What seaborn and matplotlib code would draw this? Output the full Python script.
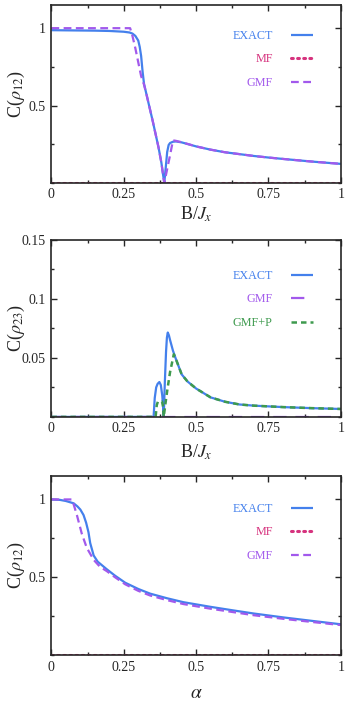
import numpy as np
import pandas as pd
import seaborn as sns
import matplotlib.pyplot as plt
from matplotlib.ticker import MultipleLocator, FuncFormatter

# colours
c_exact = '#4480ec'
c_mf = '#d6337e'
c_gmf = '#a259ec'
c_gmfp = '#3e9a4e'

# panel 1: C(rho_12) vs B/Jx
p1_exact_x = [0, 0.05, 0.1, 0.15, 0.2, 0.25, 0.27, 0.28, 0.29, 0.30, 0.305, 0.31, 0.315, 0.32, 0.33, 0.35, 0.37, 0.38, 0.386, 0.39,
              0.395, 0.40, 0.405, 0.41, 0.42, 0.43, 0.45, 0.5, 0.55, 0.6, 0.7, 0.75, 0.8, 0.9, 1.0]
p1_exact_y = [0.987, 0.986, 0.985, 0.984, 0.982, 0.977, 0.972, 0.965, 0.95, 0.92, 0.88, 0.82, 0.72, 0.64, 0.56, 0.40, 0.23, 0.13, 0.05, 0.0,
              0.10, 0.20, 0.245, 0.258, 0.266, 0.268, 0.262, 0.236, 0.215, 0.198, 0.174, 0.164, 0.155, 0.138, 0.123]
p1_gmf_x = [0, 0.272, 0.28, 0.29, 0.30, 0.31, 0.32, 0.33, 0.35, 0.37, 0.38, 0.386, 0.39, 0.40, 0.41, 0.42, 0.43, 0.45, 0.5, 0.55,
            0.6, 0.7, 0.75, 0.8, 0.9, 1.0]
p1_gmf_y = [1.0, 1.0, 0.95, 0.87, 0.78, 0.69, 0.635, 0.56, 0.40, 0.23, 0.13, 0.05, 0.0, 0.09, 0.18, 0.275, 0.272, 0.263, 0.236, 0.215,
            0.198, 0.174, 0.164, 0.155, 0.138, 0.123]
p1_mf_x = [0, 1.0]
p1_mf_y = [0, 0]

# panel 2: C(rho_23) vs B/Jx
p2_exact_x = [0, 0.353, 0.357, 0.362, 0.367, 0.373, 0.378, 0.383, 0.386, 0.388, 0.392, 0.396, 0.399, 0.402, 0.406, 0.41, 0.42, 0.43,
              0.45, 0.47, 0.5, 0.55, 0.6, 0.65, 0.7, 0.8, 0.9, 1.0]
p2_exact_y = [0, 0, 0.016, 0.025, 0.028, 0.0295, 0.027, 0.018, 0.008, 0.0, 0.03, 0.055, 0.067, 0.0714, 0.069, 0.065, 0.056, 0.049,
              0.036, 0.030, 0.024, 0.0165, 0.0128, 0.0105, 0.0095, 0.0083, 0.0074, 0.0067]
p2_gmfp_x = [0, 0.36, 0.364, 0.368, 0.375, 0.382, 0.385, 0.388, 0.395, 0.40, 0.41, 0.423, 0.43, 0.45, 0.47, 0.5, 0.55, 0.6, 0.65,
             0.7, 0.8, 0.9, 1.0]
p2_gmfp_y = [0, 0, 0.01, 0.013, 0.013, 0.013, 0.01, 0.0, 0.013, 0.022, 0.038, 0.053, 0.049, 0.036, 0.030, 0.024, 0.0165, 0.0128,
             0.0105, 0.0095, 0.0083, 0.0074, 0.0067]
p2_gmf_x = [0, 1.0]
p2_gmf_y = [0, 0]

# panel 3: C(rho_12) vs alpha
p3_exact_x = [0, 0.03, 0.05, 0.077, 0.09, 0.10, 0.111, 0.12, 0.128, 0.134, 0.146, 0.16, 0.191, 0.22, 0.255, 0.3, 0.341, 0.4, 0.456,
              0.55, 0.629, 0.7, 0.802, 0.9, 1.0]
p3_exact_y = [1.0, 0.997, 0.99, 0.975, 0.955, 0.935, 0.90, 0.85, 0.79, 0.72, 0.64, 0.60, 0.552, 0.51, 0.465, 0.425, 0.395, 0.365, 0.34,
              0.31, 0.287, 0.267, 0.242, 0.22, 0.198]
p3_gmf_x = [0, 0.07, 0.075, 0.088, 0.105, 0.122, 0.146, 0.168, 0.191, 0.22, 0.255, 0.3, 0.341, 0.4, 0.456, 0.55, 0.629, 0.7, 0.802,
            0.9, 1.0]
p3_gmf_y = [1.0, 1.0, 0.98, 0.90, 0.78, 0.69, 0.612, 0.567, 0.54, 0.50, 0.455, 0.413, 0.383, 0.353, 0.328, 0.298, 0.276, 0.256, 0.233,
            0.213, 0.193]
p3_mf_x = [0, 1.0]
p3_mf_y = [0, 0]

sns.set_style('ticks')
plt.rcParams['font.family'] = ['Liberation Serif', 'DejaVu Serif']
plt.rcParams['mathtext.fontset'] = 'stix'
plt.rcParams['axes.linewidth'] = 1.2

fig = plt.figure(figsize=(3.45, 7.09), dpi=100)
ax1 = fig.add_axes([0.149, 0.742, 0.839, 0.251])
ax2 = fig.add_axes([0.149, 0.412, 0.839, 0.250])
ax3 = fig.add_axes([0.149, 0.076, 0.839, 0.2525])

fmt = FuncFormatter(lambda v, p: '%g' % round(v, 4))
mf_ls = (0, (0.6, 1.4))

def line(ax, x, y, color, ls='-', lw=1.6, label=None):
    df = pd.DataFrame({'x': x, 'y': y})
    sns.lineplot(data=df, x='x', y='y', ax=ax, color=color, linestyle=ls, linewidth=lw,
                 label=label, sort=False, estimator=None, solid_capstyle='butt',
                 dash_capstyle='round' if ls == mf_ls else 'butt')

# panel 1
line(ax1, p1_exact_x, p1_exact_y, c_exact, label='EXACT')
line(ax1, p1_mf_x, p1_mf_y, c_mf, ls=mf_ls, lw=2.2, label='MF')
line(ax1, p1_gmf_x, p1_gmf_y, c_gmf, ls=(0, (3.5, 2)), label='GMF')

# panel 2
line(ax2, p2_exact_x, p2_exact_y, c_exact, label='EXACT')
line(ax2, p2_gmf_x, p2_gmf_y, c_gmf, ls=(0, (6, 4)), label='GMF')
line(ax2, p2_gmfp_x, p2_gmfp_y, c_gmfp, ls=(0, (2.2, 1.6)), lw=1.8, label='GMF+P')

# panel 3
line(ax3, p3_exact_x, p3_exact_y, c_exact, label='EXACT')
line(ax3, p3_mf_x, p3_mf_y, c_mf, ls=mf_ls, lw=2.2, label='MF')
line(ax3, p3_gmf_x, p3_gmf_y, c_gmf, ls=(0, (3.5, 2)), label='GMF')

for ax, ly in ((ax1, 0.92), (ax2, 0.89), (ax3, 0.91)):
    ax.set_xlim(0, 1)
    ax.xaxis.set_major_locator(MultipleLocator(0.25))
    ax.xaxis.set_minor_locator(MultipleLocator(0.125))
    ax.xaxis.set_major_formatter(fmt)
    ax.yaxis.set_major_formatter(fmt)
    ax.tick_params(which='both', direction='in', top=True, right=True, labelsize=10, width=1.0)
    ax.tick_params(which='major', length=4, pad=4)
    ax.tick_params(which='minor', length=2.5)
    ax.legend(loc='upper right', bbox_to_anchor=(0.94, ly), frameon=False, markerfirst=False,
              labelcolor='linecolor', fontsize=8.7, handlelength=1.75, handletextpad=1.55, labelspacing=0.94)
    ax.yaxis.set_label_coords(-0.083, 0.5)

for ax in (ax1, ax3):
    ax.set_ylim(0, 1.15)
    ax.set_yticks([0.5, 1])
    ax.yaxis.set_minor_locator(MultipleLocator(0.25))
    ax.set_ylabel(r'C($\rho_{12}$)', fontsize=13)

ax2.set_ylim(0, 0.15)
ax2.set_yticks([0.05, 0.1, 0.15])
ax2.yaxis.set_minor_locator(MultipleLocator(0.025))
ax2.set_ylabel(r'C($\rho_{23}$)', fontsize=13)

ax1.set_xlabel(r'B/$J_x$', fontsize=13, labelpad=2)
ax2.set_xlabel(r'B/$J_x$', fontsize=13, labelpad=5)
ax3.set_xlabel(r'$\alpha$', fontsize=14, labelpad=8)

fig.savefig('out.png', dpi=100)
